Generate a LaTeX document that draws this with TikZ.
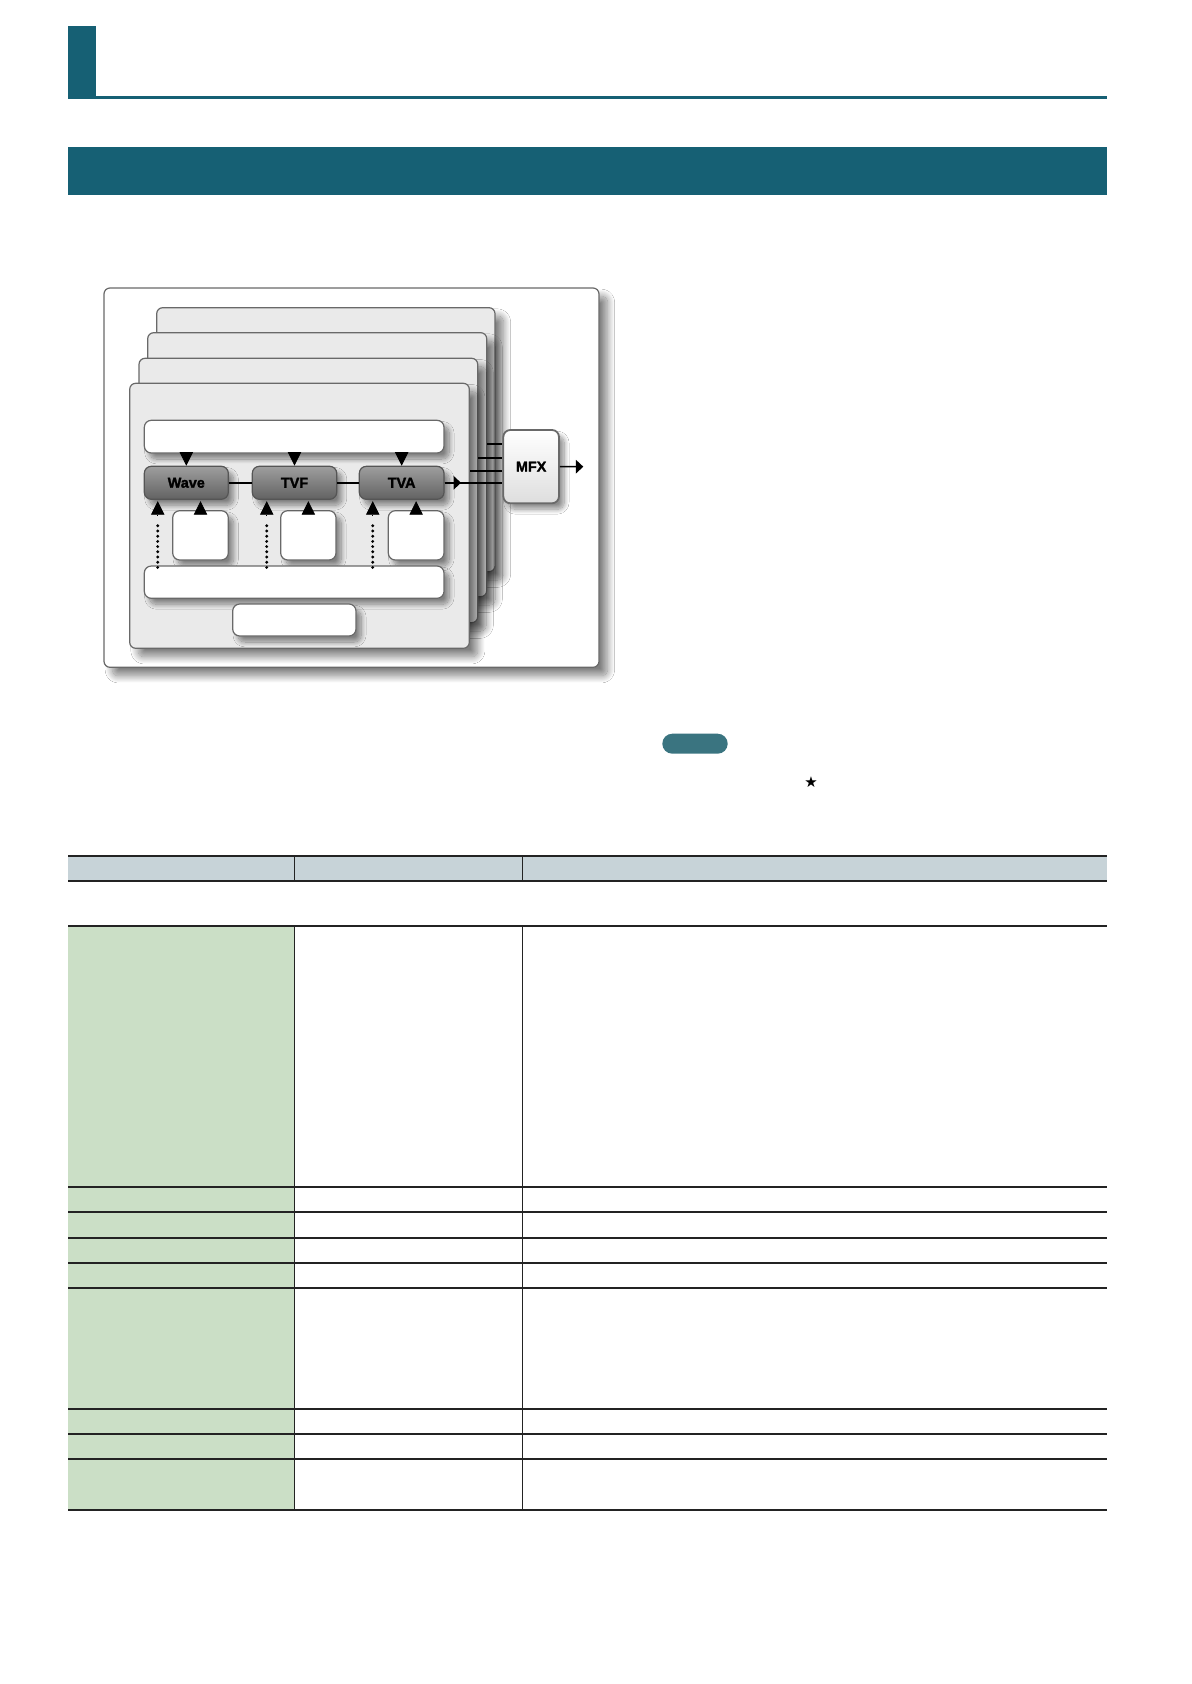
\documentclass[tikz,border=0pt]{standalone}
\usepackage{fontspec}
\setmainfont{Liberation Sans}
\newfontfamily\symfont{DejaVu Sans}
\newfontfamily\heavyfont{Liberation Sans}[UprightFont={* Bold}, UprightFeatures={FakeBold=1.8}]
\usetikzlibrary{fit,shadows.blur,arrows.meta}
\definecolor{rteal}{RGB}{22,96,116}
\definecolor{pillc}{RGB}{58,116,128}
\definecolor{hdrfill}{RGB}{199,211,216}
\definecolor{grnfill}{RGB}{203,223,198}
\definecolor{edgegray}{RGB}{105,105,105}
\definecolor{planefill}{RGB}{234,234,234}
\definecolor{blktop}{RGB}{158,158,158}
\definecolor{blkbot}{RGB}{98,98,98}
\definecolor{blkedge}{RGB}{85,85,85}
\definecolor{mfxbot}{RGB}{222,222,222}
\definecolor{rulec}{RGB}{35,35,35}
\tikzset{
  softshadow/.style={blur shadow={shadow xshift=4.2pt, shadow yshift=-4.2pt, shadow blur radius=3.6pt, shadow blur steps=20, shadow opacity=50}},
  smallshadow/.style={blur shadow={shadow xshift=2.6pt, shadow yshift=-3pt, shadow blur radius=2.4pt, shadow blur steps=15, shadow opacity=45}},
  outerframe/.style={draw=edgegray, fill=white, line width=0.6pt, rounded corners=3pt, inner sep=0pt, softshadow},
  plane/.style={draw=edgegray, fill=planefill, line width=0.6pt, rounded corners=3pt, inner sep=0pt, softshadow},
  whitebox/.style={draw=edgegray, fill=white, line width=0.6pt, rounded corners=3.5pt, inner sep=0pt, smallshadow},
  blocktext/.style={font=\heavyfont\fontsize{7.2}{8}\selectfont, text=black},
  block/.style={draw=blkedge, top color=blktop, bottom color=blkbot, line width=0.6pt, rounded corners=3.5pt, inner sep=0pt, smallshadow},
  mfxbox/.style={draw=edgegray, top color=white, bottom color=mfxbot, line width=0.9pt, rounded corners=3.5pt, inner sep=0pt, smallshadow},
  conn/.style={draw=black, line width=0.8pt},
  tri/.style={draw=black, line width=0.4pt, -{Triangle[length=6.8pt,width=6.7pt]}},
  rtri/.style={conn, -{Triangle[length=3.7pt,width=6.7pt]}},
  dotline/.style={draw=black, line width=1.6pt, line cap=round, dash pattern=on 0pt off 2.6pt},
  thickrule/.style={draw=rulec, line width=0.85pt},
  thinrule/.style={draw=rulec, line width=0.45pt},
}
\begin{document}
\begin{tikzpicture}[x=0.5pt, y=-0.5pt]
\useasboundingbox (0,0) rectangle (1191,1684);
\fill[white] (0,0) rectangle (1191,1684);

% heading
\fill[rteal] (68.4,26) rectangle (95.8,99);
\fill[rteal] (68.4,96) rectangle (1106.7,99);
\fill[rteal] (68.4,147) rectangle (1106.7,194.7);

% diagram frame
\node[outerframe, fit={(104,288) (599,667.3)}] (outer) {};
\node[plane, fit={(156.7,307.7) (495,571.7)}] (p1) {};
\node[plane, fit={(147.7,332.7) (486.7,596.7)}] (p2) {};
\node[plane, fit={(139,358.3) (477.7,622.7)}] (p3) {};
\node[plane, fit={(129.7,383.3) (469.3,648.3)}] (p4) {};

% elements of the front plane
\node[whitebox, fit={(144.3,420.3) (444,453)}] (topbar) {};
\node[whitebox, fit={(172.7,510.7) (228.3,560)}] (sb1) {};
\node[whitebox, fit={(280.7,510.7) (336,560)}] (sb2) {};
\node[whitebox, fit={(388.3,510.7) (444,560)}] (sb3) {};
\node[whitebox, fit={(144.3,566) (444,598.3)}] (botbar) {};
\node[whitebox, fit={(232.7,604) (356,636)}] (lowbox) {};
\node[block, fit={(144.3,466.3) (228.3,499.3)}, label={[blocktext]center:Wave}] (wave) {};
\node[block, fit={(252.3,466.3) (336.7,499.3)}, label={[blocktext]center:TVF}] (tvf) {};
\node[block, fit={(359.3,466.3) (444,499.3)}, label={[blocktext]center:TVA}] (tva) {};
\node[mfxbox, fit={(503.3,430) (559,503.3)}, label={[blocktext]center:MFX}] (mfx) {};

% block chain
\draw[conn] (wave.east) -- (tvf.west);
\draw[conn] (tvf.east) -- (tva.west);
\coordinate (tvaout) at (461,482.8);
\draw[conn] (tva.east) -- (tva.east -| mfx.west);
\draw[rtri] (tva.east) -- (tvaout);

% lines from the other planes into MFX
\coordinate (l1) at (487.3,444.3);
\coordinate (l2) at (478.3,457.7);
\coordinate (l3) at (470,470.7);
\draw[conn] (l1) -- (l1 -| mfx.west);
\draw[conn] (l2) -- (l2 -| mfx.west);
\draw[conn] (l3) -- (l3 -| mfx.west);

% MFX output
\coordinate (mfxout) at (583.3,466.7);
\draw[rtri] (mfx.east) -- (mfxout);

% arrows from top bar
\draw[tri] (topbar.south -| wave.north) -- (wave.north);
\draw[tri] (topbar.south -| tvf.north) -- (tvf.north);
\draw[tri] (topbar.south -| tva.north) -- (tva.north);

% arrows from small boxes
\draw[tri] ([yshift=-2.2pt]sb1.north) -- ([yshift=-0.6pt]sb1.north |- wave.south);
\draw[tri] ([yshift=-2.2pt]sb2.north) -- ([yshift=-0.6pt]sb2.north |- tvf.south);
\draw[tri] ([yshift=-2.2pt]sb3.north) -- ([yshift=-0.6pt]sb3.north |- tva.south);

% dotted arrows from bottom bar
\coordinate (d1) at ([xshift=7pt,yshift=-0.6pt]wave.south west);
\coordinate (d2) at ([xshift=7.5pt,yshift=-0.6pt]tvf.south west);
\coordinate (d3) at ([xshift=7pt,yshift=-0.6pt]tva.south west);
\coordinate (d1b) at ([yshift=-7.4pt]d1);
\coordinate (d2b) at ([yshift=-7.4pt]d2);
\coordinate (d3b) at ([yshift=-7.4pt]d3);
\draw[dotline] ([yshift=-1pt]botbar.north -| d1) -- ([yshift=-2.5pt]d1b);
\draw[dotline] ([yshift=-1pt]botbar.north -| d2) -- ([yshift=-2.5pt]d2b);
\draw[dotline] ([yshift=-1pt]botbar.north -| d3) -- ([yshift=-2.5pt]d3b);
\draw[tri] (d1b) -- (d1);
\draw[tri] (d2b) -- (d2);
\draw[tri] (d3b) -- (d3);

% note pill and star
\fill[pillc, rounded corners=5pt] (662.3,733.7) rectangle (727.7,753.7);
\node[font=\symfont\fontsize{7.5}{8}\selectfont, inner sep=0pt] (star) at (811,781.7) {★};

% table
\fill[hdrfill] (68.4,856) rectangle (1106.7,881);
\fill[grnfill] (68.4,926.3) rectangle (294.2,1510.3);
\foreach \yy in {856,881,926.3,1187.3,1212.3,1238.3,1263.3,1288.3,1409.3,1434.3,1459.3,1510.3}
  \draw[thickrule] (68.4,\yy) -- (1106.7,\yy);
\foreach \xx in {294.2,522.2} {
  \draw[thinrule] (\xx,856) -- (\xx,881);
  \draw[thinrule] (\xx,926.3) -- (\xx,1510.3);
}
\end{tikzpicture}
\end{document}
